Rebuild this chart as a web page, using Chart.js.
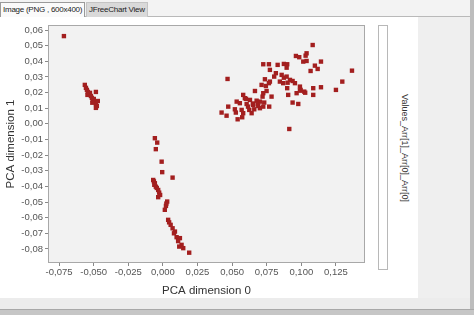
<!DOCTYPE html>
<html>
<head>
<meta charset="utf-8">
<script src="https://cdn.jsdelivr.net/npm/chart.js@4"></script>
<style>
  html,body{margin:0;padding:0;}
  body{width:474px;height:315px;position:relative;overflow:hidden;background:#e9e9e9;font-family:"Liberation Sans",sans-serif;}
  #topbar{position:absolute;left:0;top:0;width:474px;height:17px;background:#f3f3f3;border-bottom:1px solid #b9b9b9;box-sizing:border-box;}
  .tab{position:absolute;top:2px;height:15px;font-size:8px;letter-spacing:-0.25px;line-height:14px;color:#222;box-sizing:border-box;padding-left:2px;white-space:nowrap;overflow:hidden;}
  #tab1{left:0;width:85px;background:#fafafa;border:1px solid #9a9a9a;border-bottom:none;}
  #tab2{left:86px;width:62px;background:#d9d9d9;border:1px solid #c4c4c4;border-bottom:none;}
  #panel{position:absolute;left:0;top:17px;width:418px;height:281px;background:#ffffff;}
  #rightpane{position:absolute;left:418px;top:17px;width:52px;height:281px;background:#efefef;}
  #rightedge{position:absolute;left:470px;top:0;width:4px;height:315px;background:#bdbdbd;}
  #bottom1{position:absolute;left:0;top:298px;width:470px;height:11px;background:#ececec;}
  #bottom2{position:absolute;left:0;top:309px;width:474px;height:6px;background:#c6c6c6;border-top:1px solid #a8a8a8;box-sizing:border-box;}
  #chartwrap{position:absolute;left:0;top:17px;width:372px;height:281px;}
  #legbox{position:absolute;left:378px;top:25px;width:10px;height:245px;background:#fff;border:1px solid #b8b8b8;box-sizing:border-box;}
  #legtext{position:absolute;left:405px;top:148px;transform:translate(-50%,-50%) rotate(90deg);font-size:9px;color:#333;white-space:nowrap;}
</style>
</head>
<body>
<div id="topbar"></div>
<div class="tab" id="tab1">Image (PNG , 600x400)</div>
<div class="tab" id="tab2">JFreeChart View</div>
<div id="panel"></div>
<div id="rightpane"></div>
<div id="rightedge"></div>
<div id="bottom1"></div>
<div id="bottom2"></div>
<div id="chartwrap"><canvas id="c" width="372" height="281"></canvas></div>
<div id="legbox"></div>
<div id="legtext">Values_Arr[1]_Arr[0]_Arr[0]</div>
<script>
// ---- data ----
const seriesName = "Values_Arr[1]_Arr[0]_Arr[0]";
const xTitle = "PCA dimension 0";
const yTitle = "PCA dimension 1";
const xTickValues = [-0.075, -0.05, -0.025, 0, 0.025, 0.05, 0.075, 0.1, 0.125];
const yTickValues = [-0.08, -0.07, -0.06, -0.05, -0.04, -0.03, -0.02, -0.01, 0, 0.01, 0.02, 0.03, 0.04, 0.05, 0.06];

const pcaDim0 = [
  -0.0715,
  -0.0564, -0.0556, -0.0549, -0.0542, -0.0535, -0.0527, -0.0520, -0.0513, -0.0506, -0.0499, -0.0491, -0.0484, -0.0477, -0.0484, -0.0470, -0.0484, -0.0545, -0.0510,
  -0.0058, -0.0041, -0.0051, -0.0009, -0.0005, 0.0070, -0.0070, -0.0058, -0.0051, -0.0034, -0.0027, -0.0034, 0.0031, 0.0022, 0.0014, 0.0038, 0.0056, 0.0070, 0.0087, 0.0099, 0.0123, 0.0135, 0.0147, 0.0190, 0.0118, -0.0065, -0.0062, -0.0044, -0.0020, 0.0025, 0.0045, 0.0080, 0.0110,
  0.1082, 0.1038, 0.1031, 0.0961, 0.0985, 0.1038, 0.1014, 0.1142, 0.1098, 0.1118, 0.1067, 0.0725, 0.0766, 0.0829, 0.0874, 0.0898, 0.0894, 0.0773, 0.0467, 0.0816,
  0.0804, 0.0858, 0.0874, 0.0894, 0.0918, 0.0937, 0.0954, 0.0845, 0.0869, 0.0901, 0.0990, 0.0737, 0.0773, 0.0713, 0.0744, 0.0766, 0.0898, 0.0995, 0.1021, 0.1028,
  0.0966, 0.0990, 0.0905, 0.1086, 0.1142, 0.1086, 0.1250, 0.1296, 0.1366, 0.0665, 0.0725, 0.0749, 0.0720, 0.0785, 0.0580, 0.0592, 0.0629, 0.0677, 0.0701, 0.0732,
  0.0533, 0.0556, 0.0605, 0.0652, 0.0689, 0.0725, 0.0768, 0.0472, 0.0520, 0.0569, 0.0624, 0.0660, 0.0701, 0.0937, 0.0978, 0.0424, 0.0460, 0.0527, 0.0580, 0.0641,
  0.0573, 0.0540, 0.0913, 0.0600, 0.0650, 0.0615, 0.0685
];
const pcaDim1 = [
  0.0561,
  0.0249, 0.0230, 0.0217, 0.0204, 0.0191, 0.0198, 0.0178, 0.0166, 0.0153, 0.0159, 0.0140, 0.0127, 0.0114, 0.0102, 0.0146, 0.0204, 0.0185, 0.0135,
  -0.0092, -0.0120, -0.0162, -0.0242, -0.0309, -0.0344, -0.0359, -0.0380, -0.0402, -0.0423, -0.0440, -0.0469, -0.0497, -0.0525, -0.0550, -0.0614, -0.0646, -0.0668, -0.0689, -0.0725, -0.0731, -0.0774, -0.0795, -0.0824, -0.0785, -0.0368, -0.0390, -0.0410, -0.0455, -0.0510, -0.0630, -0.0700, -0.0750,
  0.0504, 0.0451, 0.0436, 0.0434, 0.0426, 0.0402, 0.0398, 0.0398, 0.0372, 0.0351, 0.0338, 0.0381, 0.0381, 0.0377, 0.0383, 0.0381, 0.0359, 0.0345, 0.0287, 0.0324,
  0.0302, 0.0313, 0.0295, 0.0302, 0.0281, 0.0274, 0.0260, 0.0270, 0.0260, 0.0263, 0.0238, 0.0285, 0.0270, 0.0249, 0.0242, 0.0260, 0.0228, 0.0217, 0.0206, 0.0199,
  0.0196, 0.0212, 0.0185, 0.0228, 0.0234, 0.0185, 0.0217, 0.0270, 0.0340, 0.0210, 0.0196, 0.0210, 0.0174, 0.0174, 0.0185, 0.0164, 0.0153, 0.0148, 0.0142, 0.0136,
  0.0142, 0.0132, 0.0127, 0.0121, 0.0114, 0.0110, 0.0110, 0.0110, 0.0093, 0.0089, 0.0089, 0.0093, 0.0100, 0.0136, 0.0127, 0.0072, 0.0052, 0.0072, 0.0068, 0.0068,
  0.0042, 0.0029, -0.0033, 0.0160, 0.0130, 0.0110, 0.0125
];

const points = pcaDim0.map((x, i) => ({x: x, y: pcaDim1[i]}));

const fmt = (v, d) => v.toFixed(d).replace('.', ',');

const plotFrame = {
  id: 'plotFrame',
  beforeDatasetsDraw(chart) {
    const a = chart.chartArea, ctx = chart.ctx;
    ctx.save();
    ctx.fillStyle = '#f2f2f2';
    ctx.fillRect(a.left, a.top, a.right - a.left, a.bottom - a.top);
    ctx.strokeStyle = '#a8a8a8';
    ctx.lineWidth = 1;
    ctx.strokeRect(a.left + 0.5, a.top + 0.5, a.right - a.left - 1, a.bottom - a.top - 1);
    ctx.restore();
  }
};

new Chart(document.getElementById('c'), {
  type: 'scatter',
  data: {
    datasets: [{
      label: seriesName,
      data: points,
      pointStyle: 'rect',
      pointRadius: 3.1,
      pointHoverRadius: 3.1,
      backgroundColor: '#a31f1f',
      borderWidth: 0
    }]
  },
  options: {
    responsive: false,
    animation: false,
    events: [],
    layout: {padding: {top: 8, right: 7, left: 0, bottom: 0}},
    plugins: {legend: {display: false}, tooltip: {enabled: false}},
    scales: {
      x: {
        type: 'linear',
        min: -0.083, max: 0.146,
        afterBuildTicks: s => { s.ticks = xTickValues.map(v => ({value: v})); },
        afterFit: s => { s.height = 35; },
        grid: {display: true, drawOnChartArea: false, drawTicks: true, tickLength: 3, color: '#888'},
        border: {display: false},
        ticks: {
          callback: v => fmt(v, 3),
          font: {family: 'Liberation Sans', size: 9.5},
          color: '#555', padding: 1, maxRotation: 0, autoSkip: false
        },
        title: {display: true, text: xTitle, font: {family: 'Liberation Sans', size: 11.5}, color: '#333', padding: {top: 0, bottom: 0}}
      },
      y: {
        type: 'linear',
        min: -0.089, max: 0.0632,
        afterBuildTicks: s => { s.ticks = yTickValues.map(v => ({value: v})); },
        afterFit: s => { s.width = 48; },
        grid: {display: true, drawOnChartArea: false, drawTicks: true, tickLength: 3, color: '#888'},
        border: {display: false},
        ticks: {
          callback: v => fmt(v, 2),
          font: {family: 'Liberation Sans', size: 9.5},
          color: '#555', padding: 2, autoSkip: false
        },
        title: {display: true, text: yTitle, font: {family: 'Liberation Sans', size: 11.5}, color: '#333', padding: {top: 4, bottom: 0}}
      }
    }
  },
  plugins: [plotFrame]
});
</script>
</body>
</html>
